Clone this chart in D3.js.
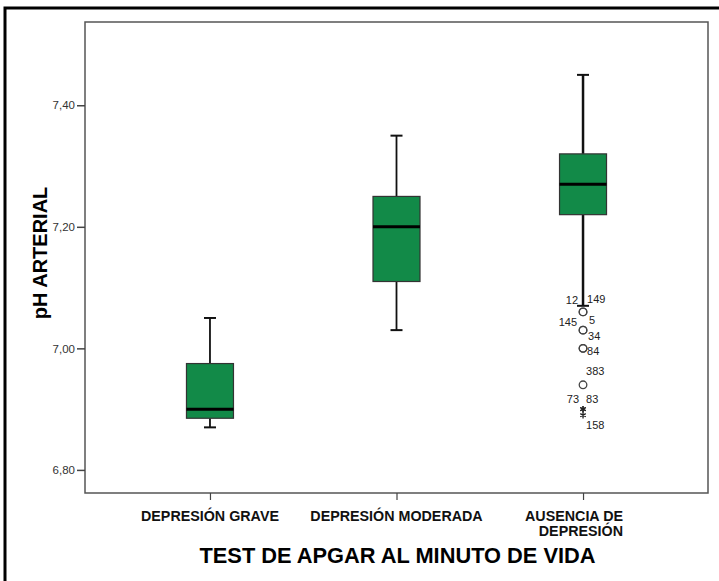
<!DOCTYPE html>
<html>
<head>
<meta charset="utf-8">
<script src="https://cdn.jsdelivr.net/npm/d3@7"></script>
<style>
  html, body { margin: 0; padding: 0; background: #fff; }
  svg { display: block; font-family: "Liberation Sans", Arial, sans-serif; }
</style>
</head>
<body>
<svg id="chart" width="719" height="581"></svg>
<script>
// Arterial pH by Apgar score at one minute
const categories = ["DEPRESIÓN GRAVE", "DEPRESIÓN MODERADA", "AUSENCIA DE DEPRESIÓN"];
const categoryLines = [["DEPRESIÓN GRAVE"], ["DEPRESIÓN MODERADA"], ["AUSENCIA DE", "DEPRESIÓN"]];
const whiskerLow  = [6.87, 7.03, 7.07];
const q1          = [6.885, 7.11, 7.22];
const medians     = [6.90, 7.20, 7.27];
const q3          = [6.975, 7.25, 7.32];
const whiskerHigh = [7.05, 7.35, 7.45];
const yTicks = [6.80, 7.00, 7.20, 7.40];

// Outlying cases (all in the last group): value, case number, marker kind
const outlierGroup  = [2, 2, 2, 2, 2, 2, 2, 2, 2, 2];
const outlierValues = [7.06, 7.06, 7.03, 7.03, 7.00, 7.00, 6.94, 6.90, 6.90, 6.89];
const outlierIds    = ["12", "149", "145", "5", "34", "84", "383", "73", "83", "158"];
const outlierKinds  = ["o", "o", "o", "o", "o", "o", "o", "*", "*", "*"];

// Label placement around each marker (dx, dy, anchor) so the case numbers don't collide
const labelLayout = [
  [-5, -8, "end"], [4, -9, "start"], [-6, -4, "end"], [6, -6, "start"],
  [5, -8, "start"], [4, 7, "start"], [3, -10, "start"], [-4, -6, "end"],
  [3, -6, "start"], [3, 14, "start"]
];

const svg = d3.select("#chart");
const plot = { left: 85, right: 708, top: 22, bottom: 493 };

const x = d3.scalePoint().domain(categories).range([plot.left, plot.right]).padding(0.67);
const y = d3.scaleLinear().domain([6.762, 7.537]).range([plot.bottom, plot.top]);

// outer frame (left and top edges)
svg.append("path")
  .attr("d", `M5,581 L5,8 L719,8`)
  .attr("fill", "none").attr("stroke", "#000").attr("stroke-width", 3);

// plot frame
svg.append("rect")
  .attr("x", plot.left).attr("y", plot.top)
  .attr("width", plot.right - plot.left).attr("height", plot.bottom - plot.top)
  .attr("fill", "#fff").attr("stroke", "#555").attr("stroke-width", 1.5);

// y axis
const fmt = d3.format(".2f");
const yAxis = svg.append("g")
  .attr("transform", `translate(${plot.left},0)`)
  .call(d3.axisLeft(y).tickValues(yTicks).tickSize(8).tickPadding(2)
    .tickFormat(d => fmt(d).replace(".", ",")));
yAxis.select(".domain").remove();
yAxis.selectAll(".tick line").attr("stroke", "#444").attr("stroke-width", 1.5);
yAxis.selectAll(".tick text")
  .attr("font-size", 11.5).attr("fill", "#333")
  .attr("font-family", "Liberation Sans, Arial, sans-serif");

// x axis
const xAxis = svg.append("g")
  .attr("transform", `translate(0,${plot.bottom})`)
  .call(d3.axisBottom(x).tickSize(7).tickFormat(""));
xAxis.select(".domain").remove();
xAxis.selectAll(".tick line").attr("stroke", "#444").attr("stroke-width", 1.2);

// category labels
categories.forEach((c, i) => {
  const lines = categoryLines[i];
  const multi = lines.length > 1;
  const t = svg.append("text")
    .attr("font-size", 14.3).attr("font-weight", "bold").attr("fill", "#111")
    .attr("text-anchor", multi ? "end" : "middle");
  lines.forEach((ln, k) => {
    t.append("tspan")
      .attr("x", multi ? x(c) + 40 : x(c))
      .attr("y", 521 + k * 14.5)
      .text(ln);
  });
});

// boxes
const boxW = 47, capW = 12;
const g = svg.append("g");
categories.forEach((c, i) => {
  const cx = x(c);
  // whiskers
  g.append("line").attr("x1", cx).attr("x2", cx)
    .attr("y1", y(q3[i])).attr("y2", y(whiskerHigh[i]))
    .attr("stroke", "#111").attr("stroke-width", i === 2 ? 2.5 : 1.8);
  g.append("line").attr("x1", cx).attr("x2", cx)
    .attr("y1", y(q1[i])).attr("y2", y(whiskerLow[i]))
    .attr("stroke", "#111").attr("stroke-width", i === 2 ? 2.5 : 1.8);
  // caps
  [whiskerHigh[i], whiskerLow[i]].forEach(v => {
    g.append("line").attr("x1", cx - capW / 2).attr("x2", cx + capW / 2)
      .attr("y1", y(v)).attr("y2", y(v))
      .attr("stroke", "#111").attr("stroke-width", 2);
  });
  // box
  g.append("rect")
    .attr("x", cx - boxW / 2).attr("width", boxW)
    .attr("y", y(q3[i])).attr("height", y(q1[i]) - y(q3[i]))
    .attr("fill", "#128a48").attr("stroke", "#333").attr("stroke-width", 1.2);
  // median
  g.append("line").attr("x1", cx - boxW / 2).attr("x2", cx + boxW / 2)
    .attr("y1", y(medians[i])).attr("y2", y(medians[i]))
    .attr("stroke", "#000").attr("stroke-width", 3);
});

// outliers and extremes
const star = d3.symbol().type(d3.symbolAsterisk).size(28);
outlierValues.forEach((v, i) => {
  const cx = x(categories[outlierGroup[i]]);
  const cy = y(v);
  if (outlierKinds[i] === "o") {
    g.append("circle").attr("cx", cx).attr("cy", cy).attr("r", 3.8)
      .attr("fill", "none").attr("stroke", "#444").attr("stroke-width", 1.3);
  } else {
    g.append("path").attr("d", star())
      .attr("transform", `translate(${cx},${cy})`)
      .attr("fill", "none").attr("stroke", "#222").attr("stroke-width", 1.3);
  }
  const [dx, dy, anchor] = labelLayout[i];
  g.append("text")
    .attr("x", cx + dx).attr("y", cy + dy)
    .attr("text-anchor", anchor)
    .attr("font-size", 11).attr("fill", "#222")
    .text(outlierIds[i]);
});

// axis titles
svg.append("text")
  .attr("transform", `translate(47,253) rotate(-90)`)
  .attr("text-anchor", "middle")
  .attr("font-size", 20).attr("font-weight", "bold").attr("fill", "#000")
  .text("pH ARTERIAL");

svg.append("text")
  .attr("x", 397.5).attr("y", 563)
  .attr("text-anchor", "middle")
  .attr("font-size", 21.8).attr("font-weight", "bold").attr("fill", "#000")
  .text("TEST DE APGAR AL MINUTO DE VIDA");
</script>
</body>
</html>
